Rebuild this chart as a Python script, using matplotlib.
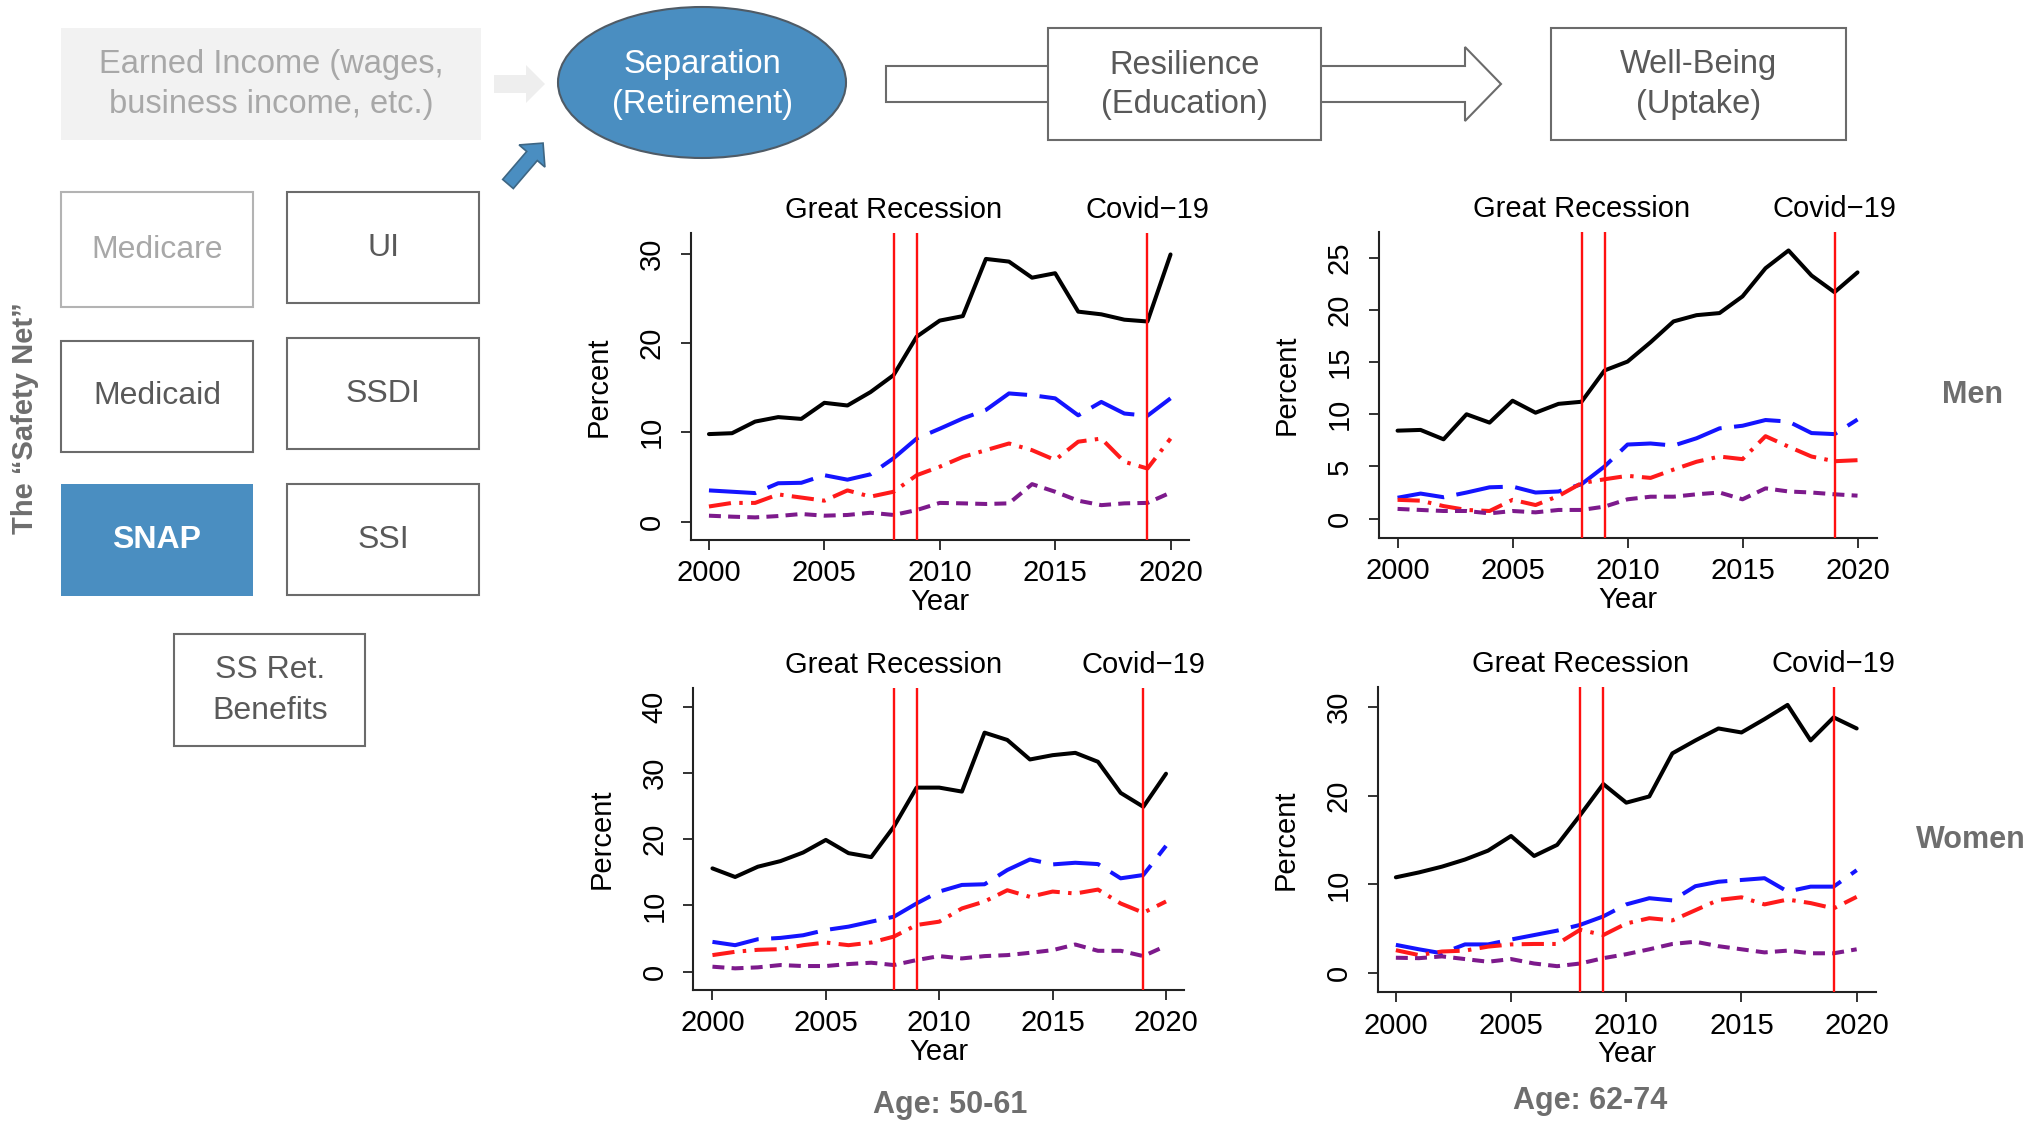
import matplotlib
matplotlib.use('Agg')
import matplotlib.pyplot as plt
from matplotlib.patches import Rectangle, Ellipse, Polygon, FancyArrow

plt.rcParams['font.family'] = ['Liberation Sans', 'DejaVu Sans']
plt.rcParams['lines.scale_dashes'] = False

# ---------------- data ----------------
years = [2000, 2001, 2002, 2003, 2004, 2005, 2006, 2007, 2008, 2009, 2010,
         2011, 2012, 2013, 2014, 2015, 2016, 2017, 2018, 2019, 2020]

# Men, age 50-61
men5061_solid = [9.8, 9.9, 11.2, 11.7, 11.5, 13.3, 13.0, 14.5, 16.4, 20.7, 22.5,
                 23.0, 29.4, 29.1, 27.3, 27.8, 23.5, 23.2, 22.6, 22.4, 29.9]
men5061_long = [3.5, 3.35, 3.2, 4.3, 4.35, 5.2, 4.7, 5.3, 7.1, 9.3, 10.4,
                11.55, 12.5, 14.35, 14.15, 13.8, 11.9, 13.4, 12.1, 11.85, 13.8]
men5061_dashdot = [1.7, 2.1, 2.1, 3.05, 2.7, 2.35, 3.5, 2.8, 3.35, 5.2, 6.15,
                   7.25, 8.0, 8.75, 8.0, 6.9, 8.95, 9.3, 6.7, 5.95, 9.3]
men5061_short = [0.67, 0.56, 0.48, 0.63, 0.86, 0.67, 0.75, 1.0, 0.75, 1.3, 2.1,
                 2.05, 1.98, 2.05, 4.2, 3.35, 2.35, 1.85, 2.05, 2.1, 3.25]

# Men, age 62-74
men6274_solid = [8.43, 8.5, 7.6, 10.0, 9.2, 11.3, 10.15, 11.0, 11.2, 14.2, 15.05,
                 16.9, 18.9, 19.5, 19.7, 21.3, 24.0, 25.7, 23.3, 21.7, 23.6]
men6274_long = [2.0, 2.4, 2.05, 2.5, 3.0, 3.07, 2.5, 2.6, 3.3, 5.0, 7.1,
                7.2, 7.0, 7.7, 8.65, 8.9, 9.45, 9.3, 8.2, 8.1, 9.5]
men6274_dashdot = [1.8, 1.72, 1.2, 0.83, 0.73, 1.8, 1.3, 2.17, 3.4, 3.77, 4.1,
                   3.9, 4.7, 5.45, 5.95, 5.7, 7.9, 6.9, 5.95, 5.5, 5.6]
men6274_short = [0.93, 0.83, 0.73, 0.73, 0.5, 0.73, 0.6, 0.83, 0.83, 1.15, 1.85,
                 2.1, 2.1, 2.33, 2.5, 1.85, 2.9, 2.6, 2.5, 2.33, 2.2]

# Women, age 50-61
wom5061_solid = [15.6, 14.3, 15.85, 16.7, 18.0, 19.9, 17.9, 17.3, 21.9, 27.8, 27.8,
                 27.2, 36.1, 35.0, 32.05, 32.7, 33.05, 31.7, 27.0, 24.9, 29.9]
wom5061_long = [4.5, 4.0, 4.9, 5.1, 5.5, 6.3, 6.8, 7.55, 8.3, 10.3, 12.1,
                13.1, 13.2, 15.35, 16.95, 16.2, 16.45, 16.25, 14.1, 14.6, 19.0]
wom5061_dashdot = [2.5, 3.0, 3.3, 3.4, 4.0, 4.4, 4.0, 4.4, 5.3, 7.05, 7.55,
                   9.55, 10.6, 12.3, 11.3, 12.1, 11.8, 12.4, 10.3, 8.9, 10.6]
wom5061_short = [0.75, 0.5, 0.65, 1.0, 0.85, 0.85, 1.15, 1.35, 1.0, 1.75, 2.35,
                 2.0, 2.35, 2.5, 2.85, 3.25, 4.1, 3.15, 3.15, 2.35, 3.9]

# Women, age 62-74
wom6274_solid = [10.8, 11.35, 12.0, 12.8, 13.8, 15.45, 13.2, 14.45, 17.8, 21.3, 19.2,
                 19.9, 24.75, 26.2, 27.55, 27.1, 28.6, 30.2, 26.2, 28.8, 27.55]
wom6274_long = [3.2, 2.7, 2.25, 3.25, 3.25, 3.8, 4.3, 4.8, 5.45, 6.4, 7.75,
                8.45, 8.2, 9.8, 10.3, 10.5, 10.7, 9.2, 9.75, 9.75, 11.6]
wom6274_dashdot = [2.6, 2.05, 2.45, 2.55, 3.0, 3.25, 3.3, 3.3, 4.9, 4.3, 5.6,
                   6.2, 5.95, 7.1, 8.25, 8.55, 7.75, 8.3, 7.9, 7.3, 8.6]
wom6274_short = [1.75, 1.7, 1.9, 1.6, 1.3, 1.6, 1.1, 0.8, 1.1, 1.7, 2.15,
                 2.7, 3.3, 3.55, 3.05, 2.7, 2.35, 2.55, 2.25, 2.25, 2.7]

event_years = [2008, 2009, 2019]
event_label_years = [2008, 2019]
event_labels = ['Great Recession', 'Covid\u221219']

yticks_men5061 = [0, 10, 20, 30]
yticks_men6274 = [0, 5, 10, 15, 20, 25]
yticks_wom5061 = [0, 10, 20, 30, 40]
yticks_wom6274 = [0, 10, 20, 30]
xticks = [2000, 2005, 2010, 2015, 2020]

safety_net_left = ['Medicare', 'Medicaid', 'SNAP']
safety_net_right = ['UI', 'SSDI', 'SSI']
flow_labels = [('Resilience', '(Education)'), ('Well-Being', '(Uptake)')]

# ---------------- figure ----------------
W, H = 2042, 1121
fig = plt.figure(figsize=(W / 100, H / 100), dpi=100)
bg = fig.add_axes([0, 0, 1, 1])
bg.set_xlim(0, W)
bg.set_ylim(H, 0)
bg.axis('off')

BLUE_FILL = '#4a8ec1'
EDGE = '#6b6b6b'
TXT = '#595959'
LABEL_GRAY = '#6e6e6e'
FS = 21
DFS = 23.5   # diagram text size
BFS = 23     # safety-net box text size

# Earned income box (faded)
bg.add_patch(Rectangle((61, 28), 420, 112, fc='#f2f2f2', ec='none'))
bg.text(271, 65, 'Earned Income (wages,', ha='center', va='center', fontsize=DFS, color='#a8a8a8')
bg.text(271, 105, 'business income, etc.)', ha='center', va='center', fontsize=DFS, color='#a8a8a8')
bg.add_patch(Polygon([(494, 75), (526, 75), (526, 65), (545, 84), (526, 103),
                      (526, 93), (494, 93)], closed=True, fc='#eeeeee', ec='none'))

# Separation ellipse
bg.add_patch(Ellipse((702, 82.5), 288, 151, fc=BLUE_FILL, ec='#4f5b66', lw=1.5))
bg.text(702, 64, 'Separation', ha='center', va='center', fontsize=DFS, color='white')
bg.text(702, 105, '(Retirement)', ha='center', va='center', fontsize=DFS, color='white')

# small blue block arrow
bg.add_patch(FancyArrow(508, 184, 24, -28, width=14, head_width=34, head_length=17,
                        length_includes_head=False, fc=BLUE_FILL, ec='#3e6683', lw=1.2))

# hollow arrow through Resilience to Well-Being
bg.add_patch(Polygon([(886, 66), (1465, 66), (1465, 47), (1501, 84), (1465, 121),
                      (1465, 102), (886, 102)], closed=True, fc='white', ec=EDGE, lw=1.5))
boxes_top = [(1048, 1321), (1551, 1846)]
for (x0, x1), (l1, l2) in zip(boxes_top, flow_labels):
    bg.add_patch(Rectangle((x0, 28), x1 - x0, 112, fc='white', ec=EDGE, lw=1.5))
    cx = (x0 + x1) / 2
    bg.text(cx, 65, l1, ha='center', va='center', fontsize=DFS, color=TXT)
    bg.text(cx, 105, l2, ha='center', va='center', fontsize=DFS, color=TXT)

# Safety-net boxes
left_rows = [(192, 307), (341, 452), (484, 596)]
right_rows = [(192, 303), (338, 449), (484, 595)]
for name, (y0, y1) in zip(safety_net_left, left_rows):
    cy = (y0 + y1) / 2
    if name == 'SNAP':
        bg.add_patch(Rectangle((61, y0), 192, y1 - y0, fc=BLUE_FILL, ec='none'))
        bg.text(157, cy, name, ha='center', va='center', fontsize=BFS,
                color='white', fontweight='bold')
    elif name == 'Medicare':
        bg.add_patch(Rectangle((61, y0), 192, y1 - y0, fc='white', ec='#b3b3b3', lw=1.5))
        bg.text(157, cy, name, ha='center', va='center', fontsize=BFS, color='#a8a8a8')
    else:
        bg.add_patch(Rectangle((61, y0), 192, y1 - y0, fc='white', ec=EDGE, lw=1.5))
        bg.text(157, cy, name, ha='center', va='center', fontsize=BFS, color=TXT)
for name, (y0, y1) in zip(safety_net_right, right_rows):
    bg.add_patch(Rectangle((287, y0), 192, y1 - y0, fc='white', ec=EDGE, lw=1.5))
    bg.text(383, (y0 + y1) / 2, name, ha='center', va='center', fontsize=BFS, color=TXT)
bg.add_patch(Rectangle((174, 634), 191, 112, fc='white', ec=EDGE, lw=1.5))
bg.text(270, 670, 'SS Ret.', ha='center', va='center', fontsize=BFS, color=TXT)
bg.text(270, 711, 'Benefits', ha='center', va='center', fontsize=BFS, color=TXT)

bg.text(25, 418, 'The \u201cSafety Net\u201d', rotation=90, ha='center', va='center',
        fontsize=21, fontweight='bold', color=LABEL_GRAY)

bg.text(1972, 395, 'Men', ha='center', va='center', fontsize=22, fontweight='bold', color=LABEL_GRAY)
bg.text(1971, 840, 'Women', ha='center', va='center', fontsize=22, fontweight='bold', color=LABEL_GRAY)
bg.text(950, 1105, 'Age: 50-61', ha='center', va='center', fontsize=22, fontweight='bold', color=LABEL_GRAY)
bg.text(1590, 1101, 'Age: 62-74', ha='center', va='center', fontsize=22, fontweight='bold', color=LABEL_GRAY)

# ---------------- panels ----------------
panels = [
    dict(box=(690.5, 233, 1189, 540), xlim=(1999.2, 2020.8), ylim=(-2.05, 32.3),
         yticks=yticks_men5061,
         series=(men5061_solid, men5061_long, men5061_dashdot, men5061_short)),
    dict(box=(1378.7, 231.7, 1876.6, 537.7), xlim=(1999.18, 2020.83), ylim=(-1.83, 27.5),
         yticks=yticks_men6274,
         series=(men6274_solid, men6274_long, men6274_dashdot, men6274_short)),
    dict(box=(693.4, 688.3, 1183.7, 990), xlim=(1999.16, 2020.78), ylim=(-2.77, 42.8),
         yticks=yticks_wom5061,
         series=(wom5061_solid, wom5061_long, wom5061_dashdot, wom5061_short)),
    dict(box=(1377.9, 686.7, 1875.8, 992.3), xlim=(1999.22, 2020.83), ylim=(-2.14, 32.25),
         yticks=yticks_wom6274,
         series=(wom6274_solid, wom6274_long, wom6274_dashdot, wom6274_short)),
]

styles = [
    dict(color='black', linestyle='-'),
    dict(color='#1414ff', dashes=(34, 9)),
    dict(color='#ff1a1a', dashes=(16, 6, 2.5, 6)),
    dict(color='#7d1a8c', dashes=(8.6, 5.2)),
]
LW = 2.9

for p in panels:
    l, t, r, b = p['box']
    ax = fig.add_axes([l / W, 1 - b / H, (r - l) / W, (b - t) / H])
    ax.patch.set_alpha(0)
    for ser, st in zip(p['series'], styles):
        ax.plot(years, ser, lw=LW, solid_joinstyle='round', solid_capstyle='round',
                dash_capstyle='butt', dash_joinstyle='round', **st)
    for ey in event_years:
        ax.axvline(ey, color='#ff1010', lw=1.7, zorder=5)
    ax.set_xlim(*p['xlim'])
    ax.set_ylim(*p['ylim'])
    ax.set_xticks(xticks)
    ax.set_yticks(p['yticks'])
    for s in ('top', 'right'):
        ax.spines[s].set_visible(False)
    for s in ('left', 'bottom'):
        ax.spines[s].set_linewidth(1.5)
        ax.spines[s].set_color('#222222')
    ax.tick_params(axis='x', length=7, width=1.3, pad=7, labelsize=FS, color='#222222')
    ax.tick_params(axis='y', length=7, width=1.3, pad=11, labelsize=FS, color='#222222')
    plt.setp(ax.get_yticklabels(), rotation=90, va='center')
    axw, axh = r - l, b - t
    ax.set_ylabel('Percent', fontsize=FS)
    ax.yaxis.set_label_coords(-92 / axw, 0.5)
    ax.yaxis.label.set_va('center')
    ax.set_xlabel('Year', fontsize=FS)
    ax.xaxis.set_label_coords(0.5, -62 / axh)
    ax.xaxis.label.set_va('center')
    for ly, lab in zip(event_label_years, event_labels):
        ax.text(ly, 1 + 23 / axh, lab, transform=ax.get_xaxis_transform(),
                ha='center', va='center', fontsize=FS, color='black')

fig.savefig('out.png', dpi=100)
